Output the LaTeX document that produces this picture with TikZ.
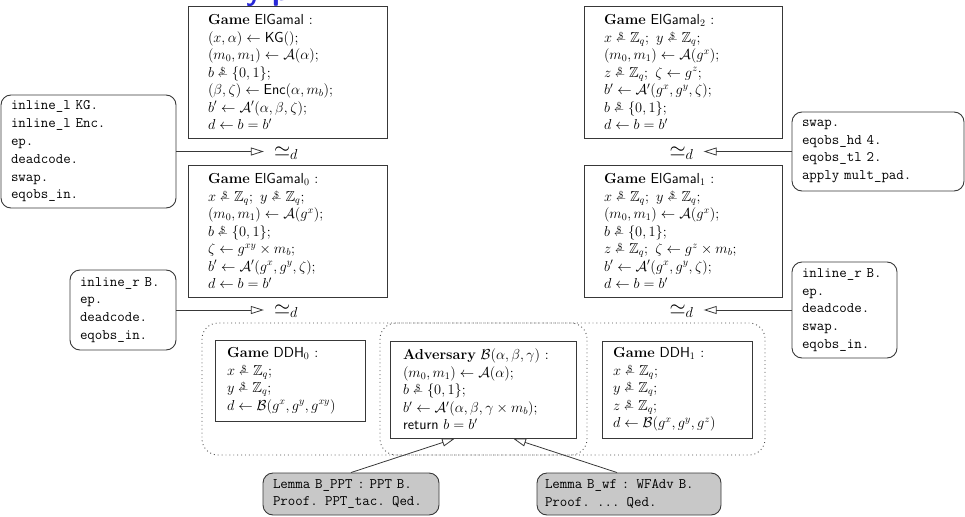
\documentclass[tikz,border=0pt]{standalone}
\usepackage{amsmath,amssymb}
\usetikzlibrary{arrows.meta}
\newcommand{\rnd}{\mathrel{\stackrel{\$}{\smash{\scriptstyle\leftarrow}}}}
\newcommand{\Lx}[1]{\mbox{#1}}
\definecolor{titleblue}{RGB}{40,40,215}
\definecolor{lemgray}{RGB}{200,200,200}
\begin{document}
\begin{tikzpicture}[x=1pt,y=-1pt,
  box/.style={draw=black!78, line width=0.9pt, align=left, inner ysep=0pt,
    font=\fontsize{14.5}{17.5}\selectfont},
  tac/.style={draw=black!78, line width=0.9pt, rounded corners=10pt, align=left, inner ysep=0pt,
    font=\ttfamily\fontsize{14.5}{17.8}\selectfont},
  lem/.style={tac, fill=lemgray},
  grp/.style={draw=black!70, line width=0.9pt, dash pattern=on 0.9pt off 3pt, rounded corners=16pt},
  eqv/.style={font=\fontsize{21}{25}\selectfont, inner sep=0pt},
  con/.style={draw=black!78, line width=0.8pt, -{Triangle[open,length=13pt,width=8pt]}},
  ttl/.style={font=\fontsize{30}{36}\selectfont\sffamily\bfseries, text=titleblue, anchor=base west, inner sep=0pt}
]
\useasboundingbox (0,0) rectangle (965,516);
\begin{scope}
  \clip (0,0) rectangle (965,516);
  \node[ttl] (title) at (246,1) {y p};
\end{scope}

% game boxes
\node[box, minimum width=199pt, minimum height=132pt, text width=159pt] (eg) at (287.5,72) {%
\Lx{\textbf{Game} \textsf{ElGamal} :}\\
\Lx{$(x,\alpha)\leftarrow\textsf{KG}();$}\\
\Lx{$(m_0,m_1)\leftarrow\mathcal{A}(\alpha);$}\\
\Lx{$b\rnd\{0,1\};$}\\
\Lx{$(\beta,\zeta)\leftarrow\textsf{Enc}(\alpha,m_b);$}\\
\Lx{$b'\leftarrow\mathcal{A}'(\alpha,\beta,\zeta);$}\\
\Lx{$d\leftarrow b=b'$}};

\node[box, minimum width=199pt, minimum height=132pt, text width=159pt] (eg0) at (287.5,231) {%
\Lx{\textbf{Game} \textsf{ElGamal}$_0$ :}\\
\Lx{$x\rnd\mathbb{Z}_q;\ y\rnd\mathbb{Z}_q;$}\\
\Lx{$(m_0,m_1)\leftarrow\mathcal{A}(g^x);$}\\
\Lx{$b\rnd\{0,1\};$}\\
\Lx{$\zeta\leftarrow g^{xy}\times m_b;$}\\
\Lx{$b'\leftarrow\mathcal{A}'(g^x,g^y,\zeta);$}\\
\Lx{$d\leftarrow b=b'$}};

\node[box, minimum width=198pt, minimum height=132pt, text width=158pt] (eg2) at (683,72) {%
\Lx{\textbf{Game} \textsf{ElGamal}$_2$ :}\\
\Lx{$x\rnd\mathbb{Z}_q;\ y\rnd\mathbb{Z}_q;$}\\
\Lx{$(m_0,m_1)\leftarrow\mathcal{A}(g^x);$}\\
\Lx{$z\rnd\mathbb{Z}_q;\ \zeta\leftarrow g^z;$}\\
\Lx{$b'\leftarrow\mathcal{A}'(g^x,g^y,\zeta);$}\\
\Lx{$b\rnd\{0,1\};$}\\
\Lx{$d\leftarrow b=b'$}};

\node[box, minimum width=198pt, minimum height=132pt, text width=158pt] (eg1) at (683,231) {%
\Lx{\textbf{Game} \textsf{ElGamal}$_1$ :}\\
\Lx{$x\rnd\mathbb{Z}_q;\ y\rnd\mathbb{Z}_q;$}\\
\Lx{$(m_0,m_1)\leftarrow\mathcal{A}(g^x);$}\\
\Lx{$b\rnd\{0,1\};$}\\
\Lx{$z\rnd\mathbb{Z}_q;\ \zeta\leftarrow g^z\times m_b;$}\\
\Lx{$b'\leftarrow\mathcal{A}'(g^x,g^y,\zeta);$}\\
\Lx{$d\leftarrow b=b'$}};

\node[box, minimum width=150pt, minimum height=81pt, text width=126pt] (ddh0) at (290,380.5) {%
\Lx{\textbf{Game} \textsf{DDH}$_0$ :}\\
\Lx{$x\rnd\mathbb{Z}_q;$}\\
\Lx{$y\rnd\mathbb{Z}_q;$}\\
\Lx{$d\leftarrow\mathcal{B}(g^x,g^y,g^{xy})$}};

\node[box, minimum width=186pt, minimum height=97pt, text width=160pt] (adv) at (483,389.5) {%
\Lx{\textbf{Adversary} $\mathcal{B}(\alpha,\beta,\gamma)$ :}\\
\Lx{$(m_0,m_1)\leftarrow\mathcal{A}(\alpha);$}\\
\Lx{$b\rnd\{0,1\};$}\\
\Lx{$b'\leftarrow\mathcal{A}'(\alpha,\beta,\gamma\times m_b);$}\\
\Lx{\textsf{return} $b=b'$}};

\node[box, minimum width=150pt, minimum height=97pt, text width=128pt] (ddh1) at (677,389.5) {%
\Lx{\textbf{Game} \textsf{DDH}$_1$ :}\\
\Lx{$x\rnd\mathbb{Z}_q;$}\\
\Lx{$y\rnd\mathbb{Z}_q;$}\\
\Lx{$z\rnd\mathbb{Z}_q;$}\\
\Lx{$d\leftarrow\mathcal{B}(g^x,g^y,g^z)$}};

% dotted groups
\draw[grp] (202,323) rectangle (587,455);
\draw[grp] (380,323) rectangle (765,455);

% tactic boxes
\node[tac, minimum width=175pt, minimum height=113pt, text width=155pt] (t1) at (88.5,151.5) {%
\Lx{inline\_l KG.}\\
\Lx{inline\_l Enc.}\\
\Lx{ep.}\\
\Lx{deadcode.}\\
\Lx{swap.}\\
\Lx{eqobs\_in.}};

\node[tac, minimum width=106pt, minimum height=80pt, text width=86pt] (t2) at (123,310) {%
\Lx{inline\_r B.}\\
\Lx{ep.}\\
\Lx{deadcode.}\\
\Lx{eqobs\_in.}};

\node[tac, minimum width=172pt, minimum height=79pt, text width=152pt] (t3) at (878,151.5) {%
\Lx{swap.}\\
\Lx{eqobs\_hd 4.}\\
\Lx{eqobs\_tl 2.}\\
\Lx{apply mult\_pad.}};

\node[tac, minimum width=105pt, minimum height=96pt, text width=85pt] (t4) at (844.5,310) {%
\Lx{inline\_r B.}\\
\Lx{ep.}\\
\Lx{deadcode.}\\
\Lx{swap.}\\
\Lx{eqobs\_in.}};

\node[lem, minimum width=176pt, minimum height=42pt, text width=156pt] (l1) at (351,494) {%
\Lx{Lemma B\_PPT : PPT B.}\\
\Lx{Proof. PPT\_tac. Qed.}};

\node[lem, minimum width=184pt, minimum height=42pt, text width=168pt] (l2) at (629,494) {%
\Lx{Lemma B\_wf : WFAdv B.}\\
\Lx{Proof. ... Qed.}};

% equivalence labels
\node[eqv] (e1) at (286,153) {$\simeq_d$};
\node[eqv] (e2) at (286,311) {$\simeq_d$};
\node[eqv] (e3) at (681.5,153) {$\simeq_d$};
\node[eqv] (e4) at (681.5,311) {$\simeq_d$};

% connectors
\draw[con, shorten >=10pt] (t1.east) -- (t1.east -| e1.west);
\draw[con, shorten >=10pt] (t2.east) -- (t2.east -| e2.west);
\draw[con, shorten >=10pt] (t3.west) -- (t3.west -| e3.east);
\draw[con, shorten >=10pt] (t4.west) -- (t4.west -| e4.east);
\draw[con] (l1.north) -- ([xshift=-28pt]adv.south);
\draw[con] ([xshift=-12pt]l2.north) -- ([xshift=30pt]adv.south);
\end{tikzpicture}
\end{document}
